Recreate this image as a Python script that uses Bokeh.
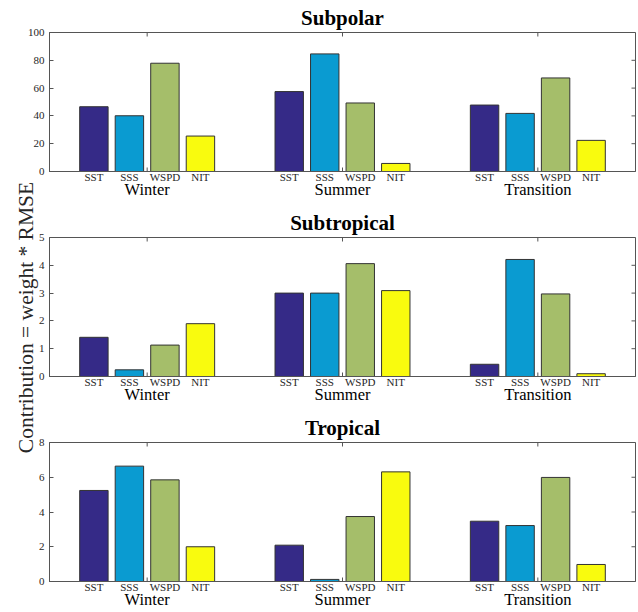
import math
from bokeh.plotting import figure
from bokeh.models import Range1d, LinearAxis, FixedTicker, ColumnDataSource, Label
from bokeh.layouts import column, row
from bokeh.embed import file_html
from bokeh.resources import INLINE

# ---------------- data ----------------
groups = ["Winter", "Summer", "Transition"]
variables = ["SST", "SSS", "WSPD", "NIT"]
var_colors = ["#352a87", "#0a9bd1", "#a5be6a", "#f9fb0e"]

subpolar_sst = [46.6, 57.5, 47.8]
subpolar_sss = [40.1, 84.6, 41.8]
subpolar_wspd = [77.9, 49.3, 67.3]
subpolar_nit = [25.5, 5.8, 22.4]

subtropical_sst = [1.41, 3.0, 0.44]
subtropical_sss = [0.24, 3.0, 4.21]
subtropical_wspd = [1.13, 4.06, 2.97]
subtropical_nit = [1.90, 3.09, 0.10]

tropical_sst = [5.24, 2.09, 3.47]
tropical_sss = [6.64, 0.12, 3.22]
tropical_wspd = [5.85, 3.74, 5.99]
tropical_nit = [2.0, 6.31, 0.98]

subpolar_yticks = [0, 20, 40, 60, 80, 100]
subtropical_yticks = [0, 1, 2, 3, 4, 5]
tropical_yticks = [0, 2, 4, 6, 8]

ylabel = "Contribution = weight * RMSE"

panels = [
    ("Subpolar", [subpolar_sst, subpolar_sss, subpolar_wspd, subpolar_nit], subpolar_yticks),
    ("Subtropical", [subtropical_sst, subtropical_sss, subtropical_wspd, subtropical_nit], subtropical_yticks),
    ("Tropical", [tropical_sst, tropical_sss, tropical_wspd, tropical_nit], tropical_yticks),
]

# ---------------- style ----------------
SERIF = "Liberation Serif"
AXC = "#555555"
TXT = "#262626"
PW = 638          # width of each panel figure
LW = 40           # width of the (overlapping) y-label strip
FRAME_H = 139
tops = [32, 32, 32]
bottoms = [34, 34, 31]
TOTAL_H = sum(tops) + sum(bottoms) + 3 * FRAME_H

# grouped bar geometry (MATLAB-like)
n = len(variables)
gw = min(0.8, n / (n + 1.5))
offsets = [-gw / 2 + (2 * i + 1) * gw / (2 * n) for i in range(n)]
bar_w = gw / n * 0.8
group_pos = [i + 1 for i in range(len(groups))]

figs = []
for k, (name, series, yticks) in enumerate(panels):
    ymax = yticks[-1]
    xr = Range1d(0.5, len(groups) + 0.5)
    p = figure(width=PW, height=tops[k] + FRAME_H + bottoms[k],
               x_range=xr, y_range=Range1d(0, ymax),
               x_axis_type=None, y_axis_type=None,
               output_backend="svg", toolbar_location=None,
               min_border_left=49, min_border_right=3,
               min_border_top=tops[k], min_border_bottom=bottoms[k],
               title=name)
    p.title.align = "center"
    p.title.text_font = SERIF
    p.title.text_font_size = "21px"
    p.title.text_font_style = "bold"
    p.title.text_color = "black"
    p.title.standoff = 5
    p.outline_line_color = AXC
    p.outline_line_width = 1
    p.background_fill_color = "white"
    p.border_fill_color = None

    xs, tp, cols = [], [], []
    for vi in range(n):
        for gi in range(len(groups)):
            xs.append(group_pos[gi] + offsets[vi])
            tp.append(series[vi][gi])
            cols.append(var_colors[vi])
    src = ColumnDataSource(dict(x=xs, top=tp, color=cols))
    p.vbar(x="x", top="top", bottom=0, width=bar_w, fill_color="color",
           line_color="#333333", line_width=1, source=src)

    # inner tick marks: bottom & top at group centres, right side at y ticks
    p.ray(x=group_pos, y=[0] * len(group_pos), length=4, length_units="screen",
          angle=math.pi / 2, line_color=AXC, line_width=1)
    p.ray(x=group_pos, y=[ymax] * len(group_pos), length=4, length_units="screen",
          angle=-math.pi / 2, line_color=AXC, line_width=1)
    p.ray(x=[xr.end] * len(yticks), y=yticks, length=4, length_units="screen",
          angle=math.pi, line_color=AXC, line_width=1)

    # left axis
    la = LinearAxis(ticker=FixedTicker(ticks=yticks, minor_ticks=[]),
                    major_tick_in=4, major_tick_out=0,
                    axis_line_color=AXC, major_tick_line_color=AXC,
                    major_label_text_font=SERIF, major_label_text_font_size="11px",
                    major_label_text_color=TXT, major_label_standoff=5)
    p.add_layout(la, "left")

    # variable labels under each bar (also draws the bottom frame line)
    bar_ticks = []
    bar_labels = {}
    for gi in range(len(groups)):
        for vi in range(n):
            xv = group_pos[gi] + offsets[vi]
            bar_ticks.append(xv)
            bar_labels[xv] = variables[vi]
    va = LinearAxis(ticker=FixedTicker(ticks=bar_ticks, minor_ticks=[]),
                    major_label_overrides=bar_labels,
                    axis_line_color=AXC, major_tick_line_color=None,
                    major_tick_in=0, major_tick_out=0,
                    major_label_text_font=SERIF, major_label_text_font_size="11px",
                    major_label_text_color=TXT, major_label_standoff=-1,
                    axis_label_standoff=0)
    p.add_layout(va, "below")

    # group labels
    ga = LinearAxis(ticker=FixedTicker(ticks=group_pos, minor_ticks=[]),
                    major_label_overrides={g: groups[i] for i, g in enumerate(group_pos)},
                    axis_line_color=None, major_tick_line_color=None,
                    major_tick_in=0, major_tick_out=0,
                    major_label_text_font=SERIF, major_label_text_font_size="16.5px",
                    major_label_text_color="black", major_label_standoff=-6,
                    axis_label_standoff=0)
    p.add_layout(ga, "below")

    figs.append(p)

# shared y-axis label strip, overlapping the panels' left borders
lf = figure(width=LW, height=TOTAL_H, x_range=Range1d(0, LW), y_range=Range1d(0, TOTAL_H),
            x_axis_type=None, y_axis_type=None, output_backend="svg",
            toolbar_location=None, min_border=0, outline_line_color=None,
            border_fill_color=None, background_fill_color=None,
            margin=(0, -LW, 0, 0))
lf.add_layout(Label(x=25.5, y=TOTAL_H - 317, text=ylabel, angle=math.pi / 2,
                    text_align="center", text_baseline="middle",
                    text_font=SERIF, text_font_size="21.5px", text_color=TXT))

layout = row(lf, column(*figs, spacing=0), spacing=0)
open("out.html", "w").write(file_html(layout, INLINE))
